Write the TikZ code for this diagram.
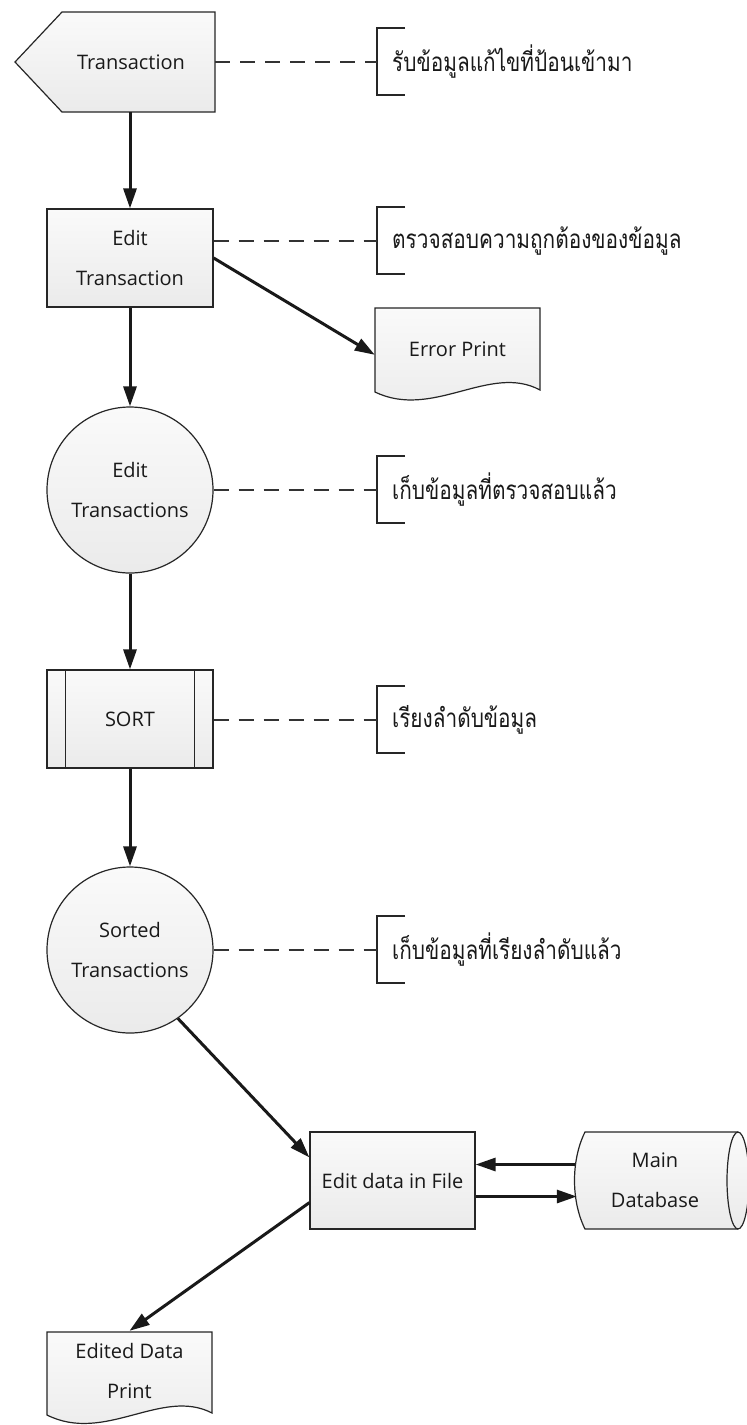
\documentclass[tikz,border=0pt]{standalone}
\usepackage{fontspec}
\setmainfont{Open Sans}
\newfontfamily\thaifont[Script=Thai,FakeStretch=0.8]{Loma}
\usetikzlibrary{arrows.meta,calc}

\begin{document}
\begin{tikzpicture}[x=1pt,y=-1pt,
  outline/.style={draw=black!85, line width=1.2pt, top color=gray!4, bottom color=gray!16},
  lbl/.style={font=\fontsize{20pt}{40pt}\selectfont, align=center, text=black!90, inner sep=0pt},
  rectbox/.style={rectangle, outline, lbl, minimum width=166pt, minimum height=98pt},
  circbox/.style={circle, outline, lbl, minimum size=166pt},
  plainbox/.style={rectangle, lbl, minimum width=165pt},
  arr/.style={line width=3pt, draw=black!90, -{Triangle[length=20pt,width=13pt]}},
  dsh/.style={line width=2pt, draw=black!80, dash pattern=on 15pt off 10pt},
  brk/.style={line width=2pt, draw=black!85},
  note/.style={anchor=west, inner sep=0pt, font=\thaifont\fontsize{26pt}{30pt}\selectfont, text=black!90}
]
\useasboundingbox (0,0) rectangle (747,1425);
\fill[white] (0,0) rectangle (747,1425);

% input (display) shape
\path[outline] (15,62) -- (62,12) -- (215,12) -- (215,112) -- (62,112) -- cycle;
\node[plainbox, minimum width=168pt, minimum height=100pt] (trans) at (131,62) {Transaction};

% processing steps
\node[rectbox] (edit) at (130,258) {Edit\\Transaction};
\node[circbox] (ecirc) at (130,490) {Edit\\Transactions};
\node[rectbox] (sort) at (130,719) {SORT};
\draw[draw=black!85, line width=1.2pt] ([xshift=19pt]sort.north west) -- ([xshift=19pt]sort.south west)
  ([xshift=-19pt]sort.north east) -- ([xshift=-19pt]sort.south east);
\node[circbox] (scirc) at (130,950) {Sorted\\Transactions};
\node[rectbox, minimum width=165pt, minimum height=97pt] (editfile) at (392.5,1180.5) {Edit data in File};

% error report (document shape)
\path[outline] (375,308) -- (540,308) -- (540,390) .. controls (490,363) and (433,420) .. (375,392) -- cycle;
\node[plainbox, minimum height=82pt] (err) at (457.5,349) {Error Print};

% edited data report (document shape)
\path[outline] (47,1332) -- (212,1332) -- (212,1413) .. controls (162,1387) and (105,1444) .. (47,1415) -- cycle;
\node[plainbox, minimum height=80pt] (edp) at (129.5,1371) {Edited Data\\Print};

% main database (horizontal drum)
\path[outline] (585,1132) -- (738,1132) .. controls (744,1132) and (749,1154) .. (749,1180.5)
  .. controls (749,1207) and (744,1229) .. (738,1229) -- (585,1229)
  .. controls (571,1201) and (571,1160) .. (585,1132) -- cycle;
\draw[draw=black!85, line width=1.2pt] (738,1132) .. controls (732,1132) and (727,1154) .. (727,1180.5)
  .. controls (727,1207) and (732,1229) .. (738,1229);
\node[plainbox, minimum width=160pt, minimum height=97pt] (db) at (655,1180.5) {Main\\Database};

% flow
\draw[arr] (edit.north |- trans.south) -- (edit.north);
\draw[arr] (edit.east) -- ($(err.north west)+(0,47)$);
\draw[arr] (edit.south) -- (ecirc.north);
\draw[arr] (ecirc.south) -- (sort.north);
\draw[arr] (sort.south) -- (scirc.north);
\draw[arr] (scirc.-55) -- ($(editfile.north west)+(0,26)$);
\draw[arr] ($(db.west)+(0,-16)$) -- ($(editfile.east)+(0,-16)$);
\draw[arr] ($(editfile.east)+(0,16)$) -- ($(db.west)+(2,16)$);
\draw[arr] ($(editfile.south west)+(0,-27)$) -- (edp.north);

% annotations
\coordinate (b1) at (377,62);
\coordinate (b2) at (377,241);
\coordinate (b3) at (377,490);
\coordinate (b4) at (377,720);
\coordinate (b5) at (377,950);
\foreach \b in {b1,b2,b3,b4,b5}{
  \draw[brk] ($(\b)+(28,-34)$) -- ($(\b)+(0,-34)$) -- ($(\b)+(0,33)$) -- ($(\b)+(28,33)$);
}
\node[note] (n1) at (392,62) {รับข้อมูลแก้ไขที่ป้อนเข้ามา};
\node[note] (n2) at (392,241) {ตรวจสอบความถูกต้องของข้อมูล};
\node[note] (n3) at (392,490) {เก็บข้อมูลที่ตรวจสอบแล้ว};
\node[note] (n4) at (392,720) {เรียงลำดับข้อมูล};
\node[note] (n5) at (392,950) {เก็บข้อมูลที่เรียงลำดับแล้ว};

\draw[dsh] (trans.east) -- (b1);
\draw[dsh] (edit.east |- b2) -- (b2);
\draw[dsh] (ecirc.east) -- (b3);
\draw[dsh] (sort.east |- b4) -- (b4);
\draw[dsh] (scirc.east) -- (b5);
\end{tikzpicture}
\end{document}
